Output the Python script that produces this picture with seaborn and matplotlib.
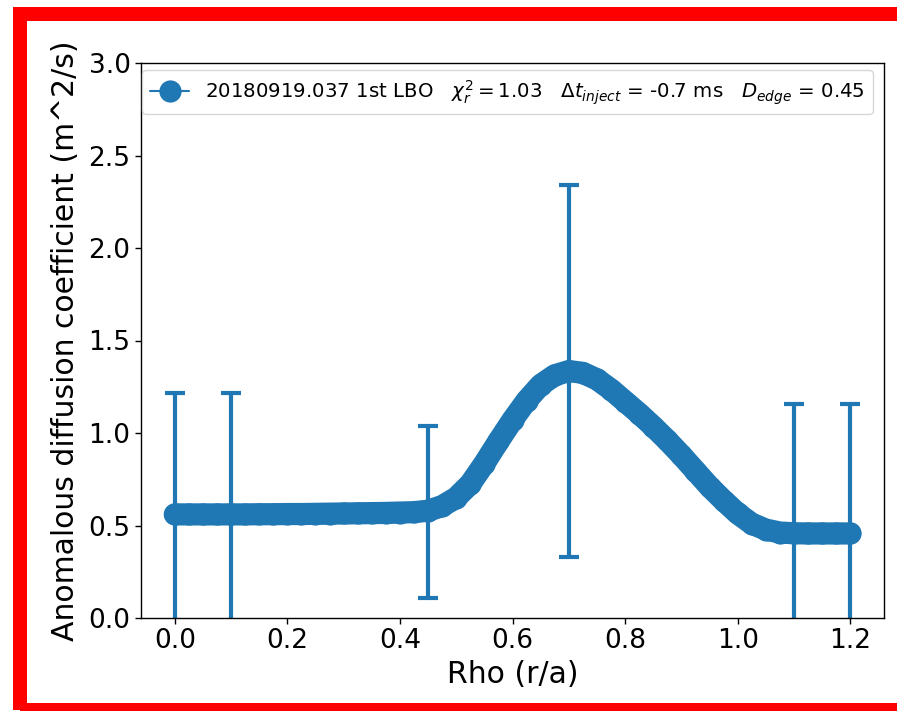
import numpy as np
import pandas as pd
import matplotlib
matplotlib.use("Agg")
import matplotlib.pyplot as plt
from matplotlib.patches import Rectangle
import seaborn as sns

# ---- data ----
rho_curve = [0.000, 0.025, 0.050, 0.075, 0.100, 0.125, 0.150, 0.175, 0.200, 0.225,
             0.250, 0.275, 0.300, 0.325, 0.350, 0.375, 0.400, 0.425, 0.450, 0.475,
             0.500, 0.525, 0.550, 0.575, 0.600, 0.625, 0.650, 0.675, 0.700, 0.725,
             0.750, 0.775, 0.800, 0.825, 0.850, 0.875, 0.900, 0.925, 0.950, 0.975,
             1.000, 1.025, 1.050, 1.075, 1.100, 1.125, 1.150, 1.175, 1.200]
d_curve = [0.560, 0.560, 0.560, 0.560, 0.560, 0.560, 0.561, 0.561, 0.562, 0.562,
           0.563, 0.564, 0.565, 0.566, 0.567, 0.568, 0.570, 0.572, 0.580, 0.605,
           0.650, 0.725, 0.835, 0.955, 1.070, 1.175, 1.260, 1.312, 1.335, 1.325,
           1.290, 1.235, 1.170, 1.105, 1.035, 0.960, 0.880, 0.795, 0.710, 0.635,
           0.565, 0.510, 0.478, 0.462, 0.458, 0.457, 0.457, 0.457, 0.457]

rho_knots = [0.0, 0.1, 0.45, 0.7, 1.1, 1.2]
d_knots = [0.560, 0.560, 0.573, 1.335, 0.458, 0.457]
d_err = [0.656, 0.656, 0.466, 1.005, 0.700, 0.700]

legend_label = (r"20180919.037 1st LBO   $\chi_r^2 = 1.03$   "
                r"$\Delta t_{inject}$ = -0.7 ms   $D_{edge}$ = 0.45")
x_label = "Rho (r/a)"
y_label = "Anomalous diffusion coefficient (m^2/s)"

df_curve = pd.DataFrame({"rho": rho_curve, "D": d_curve})

sns.set_style("ticks")
plt.rcParams["font.family"] = ["DejaVu Sans"]
plt.rcParams["axes.edgecolor"] = "black"
plt.rcParams["xtick.color"] = "black"
plt.rcParams["ytick.color"] = "black"
plt.rcParams["text.color"] = "black"
plt.rcParams["axes.labelcolor"] = "black"
plt.rcParams["axes.linewidth"] = 1.0

blue = "#1f77b4"

fig = plt.figure(figsize=(8.97, 7.11), dpi=100)
ax = fig.add_axes([141 / 897, 1 - 618 / 711, 743 / 897, 555 / 711])

# thick band underneath
sns.lineplot(data=df_curve, x="rho", y="D", ax=ax, color=blue, linewidth=16,
             legend=False, solid_capstyle="round", solid_joinstyle="round")
# dense markers with thin line (legend entry)
sns.lineplot(data=df_curve, x="rho", y="D", ax=ax, color=blue, linewidth=1.5,
             marker="o", markersize=16, markeredgewidth=0, label=legend_label)

ax.errorbar(rho_knots, d_knots, yerr=d_err, fmt="none", ecolor=blue,
            elinewidth=3, capsize=7, capthick=3)

ax.set_ylim(0, 3.0)
ax.set_xlim(-0.06, 1.26)
ax.set_yticks([0.0, 0.5, 1.0, 1.5, 2.0, 2.5, 3.0])
ax.set_xticks([0.0, 0.2, 0.4, 0.6, 0.8, 1.0, 1.2])
ax.tick_params(labelsize=19, length=4, width=1)
ax.set_xlabel(x_label, fontsize=21.5, labelpad=4)
ax.set_ylabel(y_label, fontsize=21.5, labelpad=6)
for s in ax.spines.values():
    s.set_visible(True)
    s.set_color("black")

leg = ax.legend(loc="upper left", bbox_to_anchor=(0.0013, 0.987),
                borderaxespad=0, fontsize=14.2, frameon=True)
leg.get_frame().set_edgecolor("#cccccc")

# red frame around figure
lw_pt = 14 * 72 / 100
rect = Rectangle((20 / 897, 1 / 711), 1.2, (710 - 13.5) / 711,
                 transform=fig.transFigure, fill=False, edgecolor="red",
                 linewidth=lw_pt, joinstyle="miter", clip_on=False)
fig.patches.append(rect)

fig.savefig("out.png", dpi=100)
